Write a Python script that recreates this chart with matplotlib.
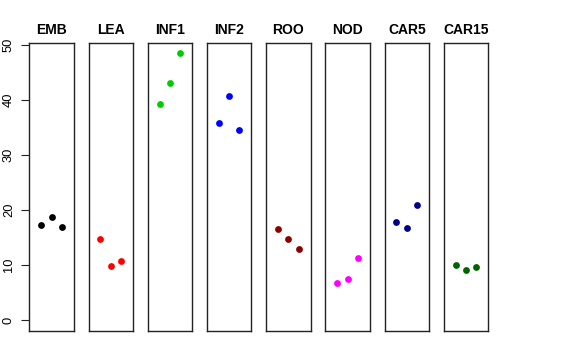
import matplotlib
matplotlib.use('Agg')
import matplotlib.pyplot as plt

## groups and their three values each
groups = ['EMB', 'LEA', 'INF1', 'INF2', 'ROO', 'NOD', 'CAR5', 'CAR15']
values = [
    [17.25, 18.7, 16.95],
    [14.7, 9.75, 10.8],
    [39.35, 43.2, 48.5],
    [35.9, 40.75, 34.6],
    [16.5, 14.8, 12.95],
    [6.7, 7.55, 11.25],
    [17.75, 16.8, 20.9],
    [9.95, 9.1, 9.6],
]
colors = ['black', 'red', '#00CD00', 'blue', '#8B0000', 'magenta', '#00008B', '#006400']
yticks = [0, 10, 20, 30, 40, 50]

W, H = 576, 360
fig = plt.figure(figsize=(W / 100, H / 100), dpi=100)
plt.rcParams['font.family'] = ['Liberation Sans', 'DejaVu Sans']

top, bottom = 42.7, 330.7
left0, step, width = 29.3, 59.2, 44.5

ymin, ymax = 0, max(max(v) for v in values)
pad = 0.04 * (ymax - ymin)

for i, (name, vals, col) in enumerate(zip(groups, values, colors)):
    ax = fig.add_axes([(left0 + i * step) / W, 1 - bottom / H, width / W, (bottom - top) / H])
    ax.scatter(range(1, len(vals) + 1), vals, s=24, color=col, zorder=3, linewidths=0)
    ax.set_xlim(-0.15, 4.15)
    ax.set_ylim(ymin - pad, ymax + pad)
    ax.set_xticks([])
    for sp in ax.spines.values():
        sp.set_linewidth(1.0)
        sp.set_color('#222222')
    ax.set_title(name, fontsize=10, fontweight='bold', pad=6)
    if i == 0:
        ax.set_yticks(yticks)
        ax.set_yticklabels([str(t) for t in yticks], rotation=90, va='center', fontsize=9.3)
        ax.tick_params(axis='y', length=5.8, width=0.8, pad=4.5, color='#222222')
    else:
        ax.set_yticks([])

fig.savefig('out.png', dpi=100)
